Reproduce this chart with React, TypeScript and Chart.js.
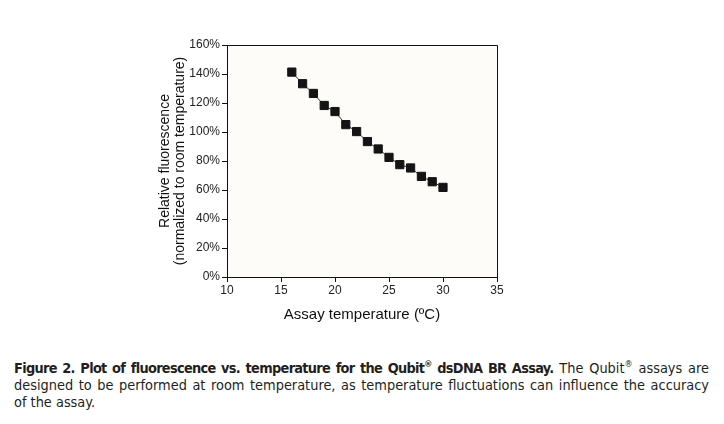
import React, { useEffect, useRef } from "react";
import { Chart, registerables } from "chart.js";

Chart.register(...registerables);

const temperatures = [16, 17, 18, 19, 20, 21, 22, 23, 24, 25, 26, 27, 28, 29, 30];
const relativeFluorescence = [141.3, 133.3, 126.6, 118.3, 114.1, 105.1, 100.3, 93.4, 88.3, 82.5, 77.5, 75.2, 69.4, 65.7, 61.8];
const xTitle = "Assay temperature (ºC)";
const yTitle = ["Relative fluorescence", "(normalized to room temperature)"];

const framePlugin = {
  id: "frame",
  beforeDraw(chart: any) {
    const { ctx, chartArea } = chart;
    ctx.save();
    ctx.fillStyle = "#fdfcf9";
    ctx.fillRect(chartArea.left, chartArea.top, chartArea.right - chartArea.left, chartArea.bottom - chartArea.top);
    ctx.restore();
  },
  afterDraw(chart: any) {
    const { ctx, chartArea } = chart;
    ctx.save();
    ctx.strokeStyle = "#111";
    ctx.lineWidth = 1;
    ctx.beginPath();
    ctx.moveTo(chartArea.left, chartArea.top + 0.5);
    ctx.lineTo(chartArea.right + 0.5, chartArea.top + 0.5);
    ctx.lineTo(chartArea.right + 0.5, chartArea.bottom);
    ctx.stroke();
    ctx.restore();
  },
};

export default function App() {
  const ref = useRef<HTMLCanvasElement | null>(null);

  useEffect(() => {
    if (!ref.current) return;
    const tickFont = { family: "'Liberation Sans', Arial, sans-serif", size: 12 };
    const chart = new Chart(ref.current, {
      type: "line",
      data: {
        datasets: [
          {
            data: temperatures.map((t, i) => ({ x: t, y: relativeFluorescence[i] })),
            borderColor: "#333",
            borderWidth: 1,
            pointStyle: "rect",
            pointRadius: 5.8,
            pointBorderWidth: 1,
            pointBackgroundColor: "#141414",
            pointBorderColor: "#141414",
            tension: 0,
          },
        ],
      },
      options: {
        animation: false,
        responsive: false,
        maintainAspectRatio: false,
        layout: { padding: { left: 155, right: 227, top: 45, bottom: 16 } },
        plugins: { legend: { display: false }, tooltip: { enabled: false } },
        scales: {
          x: {
            type: "linear",
            min: 10,
            max: 35,
            ticks: { stepSize: 5, color: "#222", font: tickFont, padding: 1, maxRotation: 0 },
            grid: { drawOnChartArea: false, drawTicks: true, tickLength: 5, color: "#111" },
            border: { display: true, color: "#111", width: 1 },
            title: {
              display: true,
              text: xTitle,
              color: "#111",
              font: { family: "'Liberation Sans', Arial, sans-serif", size: 15 },
              padding: { top: 0, bottom: 0 },
            },
            afterFit(scale: any) {
              scale.height = 47;
            },
          },
          y: {
            type: "linear",
            min: 0,
            max: 160,
            ticks: {
              stepSize: 20,
              color: "#222",
              font: tickFont,
              padding: 2,
              callback: (v: any) => v + "%",
            },
            grid: { drawOnChartArea: false, drawTicks: true, tickLength: 5, color: "#111" },
            border: { display: true, color: "#111", width: 1 },
            title: {
              display: true,
              text: yTitle,
              color: "#111",
              font: { family: "'Liberation Sans', Arial, sans-serif", size: 14, lineHeight: 1.1 },
              padding: { top: 2, bottom: 0 },
            },
            afterFit(scale: any) {
              scale.width = 72;
            },
          },
        },
      },
      plugins: [framePlugin],
    });
    return () => chart.destroy();
  }, []);

  const captionFont = "'DejaVu Sans Condensed', sans-serif";
  const sup = { fontSize: 9, lineHeight: 0 } as const;
  const justified = { textAlign: "justify", textAlignLast: "justify" } as const;

  return (
    <div style={{ position: "absolute", left: 0, top: 0, width: 724, height: 424, background: "#fff" }}>
      <canvas ref={ref} width={724} height={340} style={{ position: "absolute", left: 0, top: 0, width: 724, height: 340 }} />
      <div
        style={{
          position: "absolute",
          left: 14,
          top: 360,
          width: 695,
          fontFamily: captionFont,
          fontSize: 14.4,
          lineHeight: "17px",
          color: "#231f20",
        }}
      >
        <div style={{ ...justified, whiteSpace: "nowrap" }}>
          <b style={{ letterSpacing: "-0.7px" }}>
            Figure 2. Plot of fluorescence vs. temperature for the Qubit<sup style={sup}>®</sup> dsDNA BR Assay.
          </b>{" "}
          The Qubit<sup style={sup}>®</sup> assays are
        </div>
        <div style={justified}>designed to be performed at room temperature, as temperature fluctuations can influence the accuracy</div>
        <div>of the assay.</div>
      </div>
    </div>
  );
}
